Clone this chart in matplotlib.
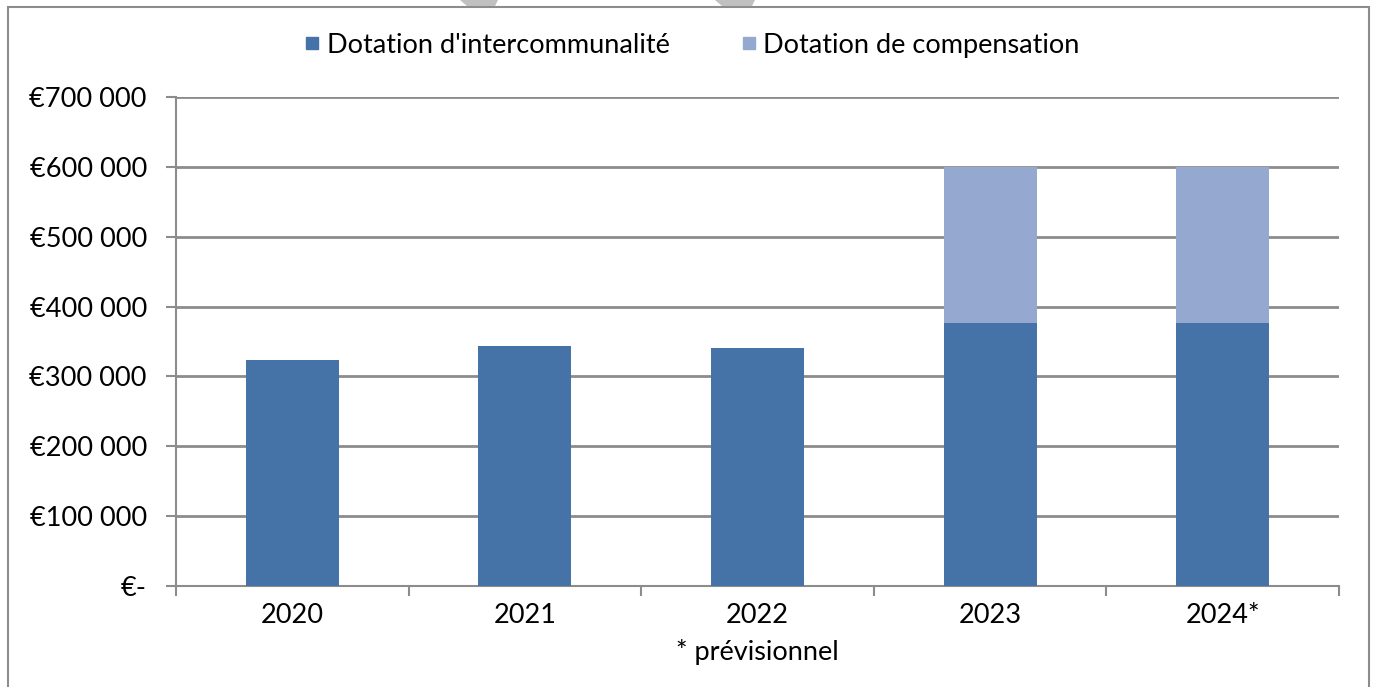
import numpy as np
import matplotlib.pyplot as plt
from matplotlib.ticker import FuncFormatter
from matplotlib.patches import Rectangle, Polygon
from matplotlib.lines import Line2D

plt.rcParams['font.family'] = ['Lato', 'DejaVu Sans']

years = ['2020', '2021', '2022', '2023', '2024*']
interco = [323000, 344000, 340000, 377000, 377000]
compensation = [0, 0, 0, 223000, 223000]
series_names = ["Dotation d'intercommunalité", "Dotation de compensation"]
colors = ['#4573A7', '#95A9D0']

fs = 19.5

fig = plt.figure(figsize=(13.73, 6.87), dpi=100)
ax = fig.add_axes([0.1282, 0.147, 0.9752 - 0.1282, 0.8588 - 0.147])

x = np.arange(len(years))
ax.bar(x, interco, width=0.4, color=colors[0], zorder=3)
ax.bar(x, compensation, width=0.4, bottom=interco, color=colors[1], zorder=3)

ax.set_xlim(-0.5, len(years) - 0.5)
ax.set_ylim(0, 700000)
ax.set_yticks(np.arange(0, 700001, 100000))

def fmt(v, pos):
    if v == 0:
        return '€-'
    return '€' + '{:,.0f}'.format(v).replace(',', ' ')

ax.yaxis.set_major_formatter(FuncFormatter(fmt))
ax.grid(axis='y', color='#8c8c8c', linewidth=2, zorder=0)

ax.set_xticks(x)
ax.set_xticklabels(years)
ax.set_xticks(np.arange(-0.5, len(years)), minor=True)
ax.tick_params(axis='x', which='major', length=0, pad=12, labelsize=fs)
ax.tick_params(axis='x', which='minor', length=7, width=1.5, color='#8c8c8c')
ax.tick_params(axis='y', length=7, width=1.5, color='#8c8c8c', pad=14, labelsize=fs)

for s in ['top', 'right']:
    ax.spines[s].set_visible(False)
for s in ['left', 'bottom']:
    ax.spines[s].set_color('#8c8c8c')
    ax.spines[s].set_linewidth(1.5)

ax.set_xlabel('* prévisionnel', fontsize=fs, labelpad=8)

handles = [Line2D([], [], marker='s', linestyle='', markersize=8, color=c) for c in colors]
fig.legend(handles, series_names, loc='center', bbox_to_anchor=(0.504, 0.934), ncol=2,
           frameon=False, fontsize=fs, handlelength=0.6, handletextpad=0.25, columnspacing=2.6)

# outer frame
fig.patches.append(Rectangle((8 / 1373, -0.01), 1361 / 1373, 1 - 7 / 687 + 0.01,
                             transform=fig.transFigure, fill=False,
                             edgecolor='#8c8c8c', linewidth=1.5))
# grey marks at the top edge
for x0, x1 in [(460, 498), (715, 755)]:
    pts = [(x0 / 1373, 1), (x1 / 1373, 1), ((x1 - 3) / 1373, 1 - 6 / 687), ((x0 + 7) / 1373, 1 - 6 / 687)]
    fig.patches.append(Polygon(pts, closed=True, transform=fig.transFigure,
                               facecolor='#c0c0c0', edgecolor='none', linewidth=0))

fig.savefig('out.png', dpi=100)
